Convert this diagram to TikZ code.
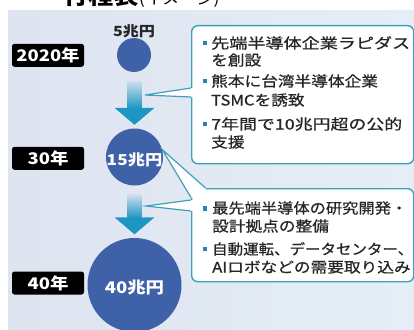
\documentclass[tikz,border=0pt]{standalone}
\usepackage{fontspec}
\usepackage{graphicx}
\newfontfamily\jp[FakeStretch=1.15]{Noto Sans CJK JP}
\newfontfamily\jpbody[FakeStretch=1.15,FakeBold=0.7]{Noto Sans CJK JP}
\usetikzlibrary{calc}
\definecolor{bgL}{RGB}{222,228,240}
\definecolor{bgR}{RGB}{229,238,246}
\definecolor{circ}{RGB}{62,97,167}
\definecolor{arr}{RGB}{30,150,196}
\definecolor{bord}{RGB}{64,160,184}
\definecolor{bul}{RGB}{40,130,175}
\definecolor{txt}{RGB}{38,38,38}
\newcommand\fitw[2]{\resizebox{#1}{\height}{#2}}
\newcommand\flowarrow[3]{%
  \coordinate (#3top) at ($(#1.south)+(0,9)$);
  \coordinate (#3tip) at ($(#2.north)+(0,-3.5)$);
  \shade[top color=arr!8!bgL, bottom color=arr] ($(#3top)+(-7,0)$) rectangle ($(#3tip)+(7,-16.5)$);
  \fill[arr] ($(#3tip)+(-20,-17)$) -- (#3tip) -- ($(#3tip)+(20,-17)$) -- cycle;
}
\begin{document}
\begin{tikzpicture}[x=1pt,y=-1pt,
  yearlbl/.style={fill=black, rounded corners=2.5pt, text=white, inner sep=0pt,
    minimum width=72pt, minimum height=23pt, font=\jp\bfseries\fontsize{16}{16}\selectfont},
  bubble/.style={circle, fill=circ, inner sep=0pt},
  bubbletxt/.style={text=white, inner sep=0pt},
  callout/.style={draw=bord, line width=1.4pt, fill=white, rounded corners=6pt, inner sep=0pt, anchor=north west},
  ptr/.style={draw=bord, line width=1.2pt, line join=miter},
  bodytxt/.style={anchor=base west, inner sep=0pt, text=txt, font=\jpbody\fontsize{14.5}{17}\selectfont},
  bullet/.style={fill=bul, minimum size=4.5pt, inner sep=0pt},
]
\useasboundingbox (0,0) rectangle (414,329);
\clip (0,0) rectangle (414,329);
\fill[white] (0,0) rectangle (414,329);
\node[anchor=base west, inner sep=0pt, text=black] (title) at (63,5)
  {\jp\bfseries\fontsize{22}{22}\selectfont 行程表\mdseries\fontsize{15}{15}\selectfont (イメージ)};
\fill[left color=bgL, right color=bgR] (8,11) rectangle (414,329);

% years
\node[yearlbl] (y2020) at (48,55.3) {2020年};
\node[yearlbl] (y30) at (48,158.3) {30年};
\node[yearlbl] (y40) at (48,283) {40年};

% circles
\node[bubble, minimum size=34pt] (c5) at (134,55) {};
\node[inner sep=0pt, text=txt, font=\jp\bfseries\fontsize{14}{14}\selectfont] (t5) at (134,31) {5兆円};
\node[bubble, minimum size=57pt] (c15) at (134.5,157) {};
\node[bubbletxt, font=\jp\bfseries\fontsize{15}{15}\selectfont] (t15) at (134.5,160) {15兆円};
\node[bubble, minimum size=94pt] (c40) at (134.5,285) {};
\node[bubbletxt, font=\jp\bfseries\fontsize{16}{16}\selectfont] (t40) at (134.5,288) {40兆円};

% arrows
\flowarrow{c5}{c15}{a1}
\flowarrow{c15}{c40}{a2}

% callout boxes
\node[callout, minimum width=222pt, minimum height=138pt] (box1) at (191,25) {};
\node[callout, minimum width=222pt, minimum height=93pt] (box2) at (191,188) {};

% pointer of box 1 to arrow 1
\coordinate (p1) at (145,95);
\fill[white] (191,88) -- (p1) -- (191,97) -- (192.8,97) -- (192.8,88) -- cycle;
\draw[ptr] (191,88) -- (p1) -- (191,97);

% pointer of box 2 to circle 15
\fill[white] (205.5,188) -- (c15.15) -- (191,197.5) -- (192.6,197.5) -- (195.5,191.5) -- (205.5,190.2) -- cycle;
\draw[ptr] (205.5,188) -- (c15.15) -- (191,197.5);

% pointer of box 2 to arrow 2
\coordinate (p3) at (146,206);
\fill[white] (191,200) -- (p3) -- (191,211) -- (192.8,211) -- (192.8,200) -- cycle;
\draw[ptr] (191,200) -- (p3) -- (191,211);

% bullets
\node[bullet] (k1) at (205,43) {};
\node[bullet] (k2) at (205,81) {};
\node[bullet] (k3) at (205,124) {};
\node[bullet] (k4) at (205,208.5) {};
\node[bullet] (k5) at (205,249) {};

% texts
\node[bodytxt] (b1l1) at (211,48.5) {\fitw{199pt}{先端半導体企業ラピダス}};
\node[bodytxt] (b1l2) at (211,65.5) {を創設};
\node[bodytxt] (b1l3) at (211,86.5) {熊本に台湾半導体企業};
\node[bodytxt] (b1l4) at (211,105.5) {TSMCを誘致};
\node[bodytxt] (b1l5) at (211,129.5) {\fitw{191pt}{7年間で10兆円超の公的}};
\node[bodytxt] (b1l6) at (211,147.5) {支援};
\node[bodytxt] (b2l1) at (212,213.5) {\fitw{195pt}{最先端半導体の研究開発・}};
\node[bodytxt] (b2l2) at (212,231.5) {設計拠点の整備};
\node[bodytxt] (b2l3) at (212,254.5) {\fitw{201pt}{自動運転、データセンター、}};
\node[bodytxt] (b2l4) at (212,272.5) {AIロボなどの需要取り込み};
\end{tikzpicture}
\end{document}
